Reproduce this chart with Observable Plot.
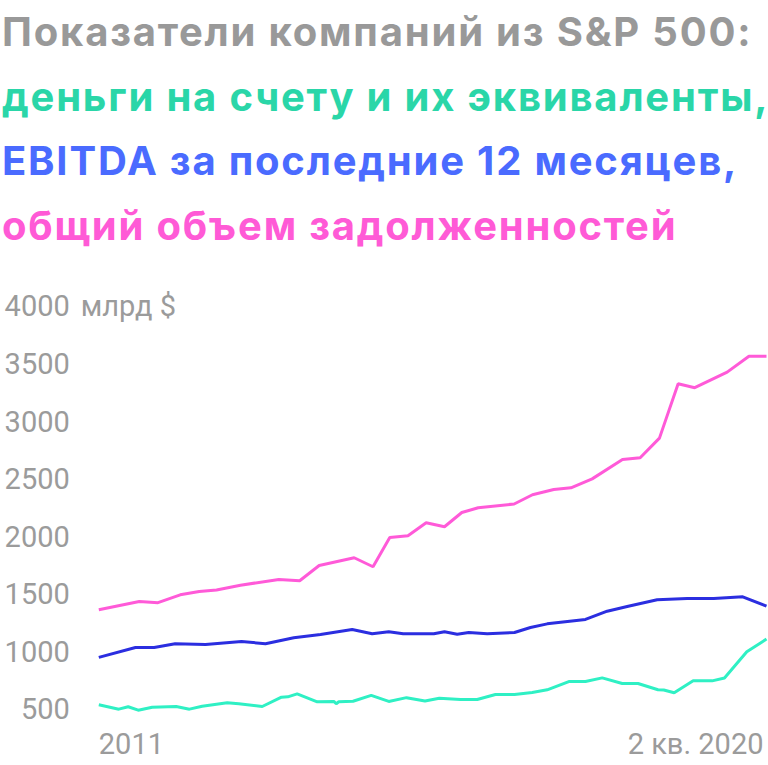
<!DOCTYPE html>
<html><head><meta charset="utf-8">
<script src="https://cdn.jsdelivr.net/npm/d3@7"></script>
<script src="https://cdn.jsdelivr.net/npm/@observablehq/plot@0.6"></script>
<style>
body{margin:0;background:#fff;}
#title{font-family:Inter, sans-serif;font-weight:700;font-size:40px;letter-spacing:1.8px;line-height:64.5px;margin:0;padding-left:2px;height:258px;white-space:nowrap;overflow:hidden;}
#chart svg{display:block;}
</style></head><body>
<div id="title">
<div style="color:#999999">Показатели компаний из S&amp;P 500:</div>
<div style="color:#2ad6a8">деньги на счету и их эквиваленты,</div>
<div style="color:#4a6bff">EBITDA за последние 12 месяцев,</div>
<div style="color:#ff5ad6">общий объем задолженностей</div>
</div>
<div id="chart"></div>
<script>
// time as decimal years, values in billions of dollars
const debtT = [2011.000,2011.561,2011.820,2012.128,2012.391,2012.631,2012.963,2013.494,2013.783,2014.053,2014.538,2014.799,2015.031,2015.283,2015.535,2015.789,2016.029,2016.256,2016.754,2017.008,2017.303,2017.541,2017.835,2018.255,2018.500,2018.767,2019.026,2019.256,2019.705,2020.007,2020.250];
const debtV = [1372,1444,1434,1502,1531,1544,1586,1635,1624,1757,1824,1746,1999,2015,2128,2093,2217,2258,2291,2371,2417,2431,2509,2677,2692,2863,3335,3301,3436,3574,3574];

const ebitdaT = [2011.000,2011.508,2011.767,2012.058,2012.478,2012.977,2013.309,2013.701,2014.071,2014.510,2014.787,2015.017,2015.217,2015.641,2015.789,2015.965,2016.126,2016.381,2016.759,2016.980,2017.212,2017.742,2018.043,2018.320,2018.735,2019.151,2019.519,2019.921,2020.250];
const ebitdaV = [959,1045,1045,1077,1071,1097,1077,1129,1157,1201,1164,1182,1164,1164,1181,1160,1175,1164,1175,1218,1250,1288,1360,1401,1459,1470,1470,1485,1403];

const cashT = [2011.000,2011.277,2011.407,2011.546,2011.740,2012.072,2012.256,2012.432,2012.779,2012.939,2013.264,2013.531,2013.618,2013.748,2014.026,2014.256,2014.289,2014.325,2014.522,2014.774,2015.017,2015.263,2015.519,2015.717,2016.011,2016.242,2016.495,2016.759,2017.004,2017.212,2017.511,2017.742,2017.974,2018.251,2018.470,2018.747,2018.827,2018.971,2019.234,2019.497,2019.668,2019.977,2020.250];
const cashV = [547,509,530,500,526,532,509,535,564,556,532,613,616,642,573,576,556,573,578,629,576,609,580,603,593,593,636,636,654,677,749,749,781,732,732,678,675,651,755,755,780,1007,1118];

const yTicks = [500,1000,1500,2000,2500,3000,3500,4000];
const xStart = 2011.0, xEnd = 2020.25;
const xStartLabel = "2011", xEndLabel = "2 кв. 2020";
const unitLabel = "млрд $";

const series = [
  {name: "cash", t: cashT, v: cashV, color: "#2ff0c4"},
  {name: "ebitda", t: ebitdaT, v: ebitdaV, color: "#2b2ee0"},
  {name: "debt", t: debtT, v: debtV, color: "#ff5ad8"}
];
const rows = series.flatMap(s => s.t.map((t, i) => ({series: s.name, t, v: s.v[i]})));

const gray = "#9b9b9b";
const fs = 29;
const chart = Plot.plot({
  width: 768,
  height: 507,
  marginLeft: 98.3,
  marginRight: 2,
  marginTop: 48.7,
  marginBottom: 55.3,
  style: {fontFamily: "Roboto, sans-serif", fontSize: fs + "px", color: gray, background: "#fff", overflow: "visible"},
  x: {domain: [xStart, xEnd]},
  y: {domain: [500, 4000]},
  color: {domain: series.map(s => s.name), range: series.map(s => s.color)},
  marks: [
    Plot.axisY(yTicks, {tickSize: 0, tickPadding: 29, tickFormat: d3.format("d"), fill: gray, fontSize: fs, label: null}),
    Plot.text([{v: 4000, label: unitLabel}], {y: "v", text: "label", frameAnchor: "left", dx: -18, textAnchor: "start", fill: gray, fontSize: fs}),
    Plot.axisX([xStart], {tickSize: 0, tickPadding: 23, tickFormat: () => xStartLabel, textAnchor: "start", fill: gray, fontSize: fs, label: null}),
    Plot.axisX([xEnd], {tickSize: 0, tickPadding: 23, tickFormat: () => xEndLabel, textAnchor: "end", dx: -3, fill: gray, fontSize: fs, label: null}),
    Plot.line(rows, {x: "t", y: "v", z: "series", stroke: "series", strokeWidth: 3, strokeLinejoin: "miter", strokeLinecap: "butt"})
  ]
});
document.getElementById("chart").appendChild(chart);
</script>
</body></html>
